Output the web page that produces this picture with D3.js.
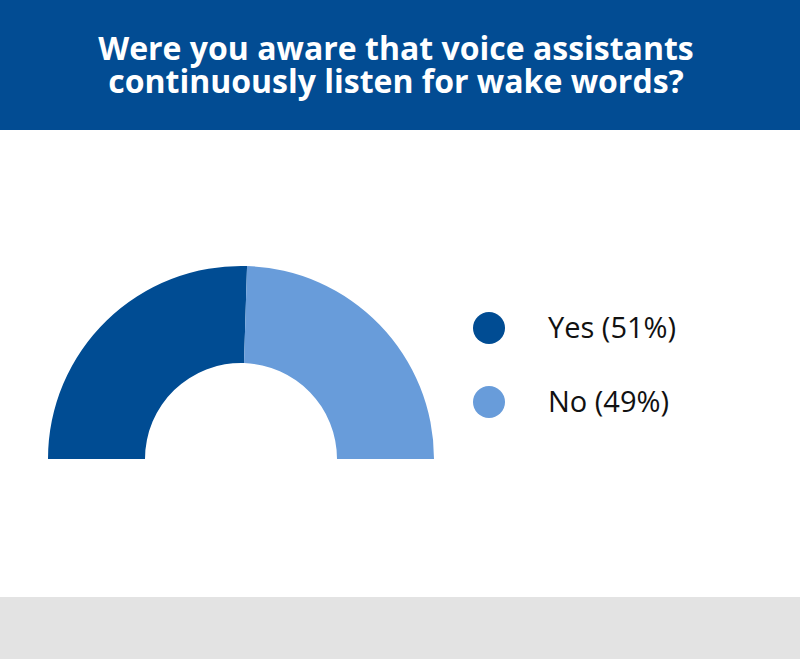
<!DOCTYPE html>
<html><head><meta charset="utf-8">
<script src="https://cdn.jsdelivr.net/npm/d3@7"></script>
<style>html,body{margin:0;padding:0;background:#fff;}svg{display:block;}</style>
</head><body>
<script>
const titleLines = ["Were you aware that voice assistants", "continuously listen for wake words?"];
const categories = ["Yes", "No"];
const values = [51, 49];
const colors = ["#004c93", "#689cda"];

const W = 800, H = 659;
const svg = d3.select("body").append("svg").attr("width", W).attr("height", H);

svg.append("rect").attr("x", 0).attr("y", 0).attr("width", W).attr("height", 130).attr("fill", "#024c93");
svg.append("rect").attr("x", 0).attr("y", 597).attr("width", W).attr("height", 62).attr("fill", "#e3e3e3");

svg.append("text").attr("x", 396).attr("y", 60).attr("text-anchor", "middle")
  .attr("font-family", "Open Sans").attr("font-weight", 700).attr("font-size", 32).attr("fill", "#fff")
  .selectAll("tspan").data(titleLines).join("tspan")
  .attr("x", 396).attr("dy", (d, i) => i === 0 ? 0 : 33).text(d => d);

const cx = 241, cy = 459, rOuter = 193, rInner = 96;
const pie = d3.pie().sort(null).startAngle(-Math.PI / 2).endAngle(Math.PI / 2).value(d => d);
const arc = d3.arc().innerRadius(rInner).outerRadius(rOuter);
const color = d3.scaleOrdinal().domain(categories).range(colors);

svg.append("g").attr("transform", `translate(${cx},${cy})`)
  .selectAll("path").data(pie(values)).join("path")
  .attr("d", arc).attr("fill", (d, i) => color(categories[i]));

const ly = d3.scalePoint().domain(categories).range([328, 402]);
const lg = svg.append("g");
lg.selectAll("circle").data(categories).join("circle")
  .attr("cx", 489).attr("cy", d => ly(d)).attr("r", 16).attr("fill", d => color(d));
lg.selectAll("text").data(categories).join("text")
  .attr("x", 548).attr("y", d => ly(d) + 9.5)
  .attr("font-family", "Open Sans").attr("font-size", 29).attr("fill", "#111")
  .text((d, i) => `${d} (${values[i]}%)`);
</script>
</body></html>
